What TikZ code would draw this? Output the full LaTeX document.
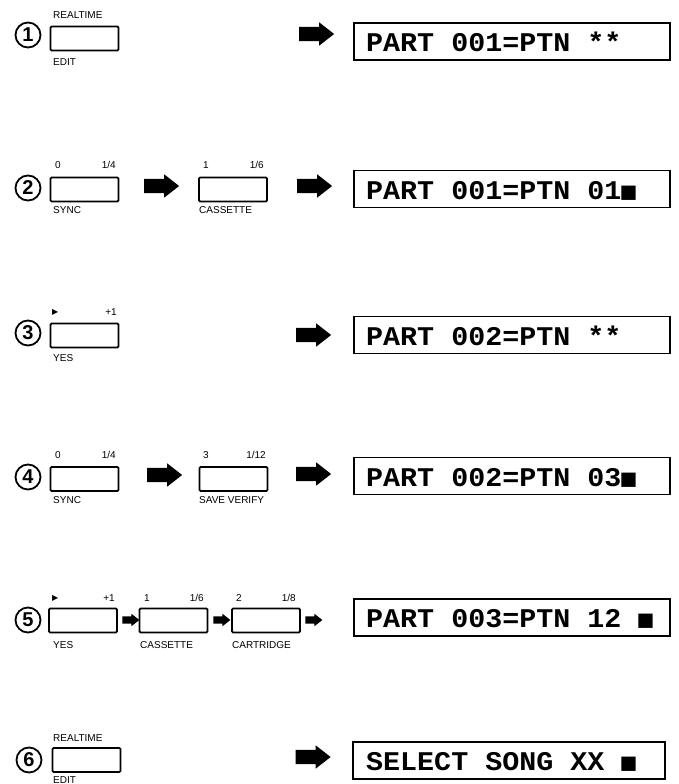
\documentclass[tikz,border=0pt]{standalone}
\usepackage{fontspec}
\usetikzlibrary{shapes.arrows}
\setmainfont{Liberation Sans}
\newfontfamily\lcdfont[FakeStretch=1.05]{Liberation Mono}
\newfontfamily\symfont{DejaVu Sans}
\newfontfamily\cursfont{DejaVu Sans Mono}
\tikzset{
 btn/.style={draw, line width=1.8pt, rounded corners=1.2pt, minimum width=68pt, minimum height=24pt, inner sep=0pt},
 lcd/.style={draw, line width=1.8pt, minimum width=316pt, minimum height=37pt, inner sep=0pt},
 lcdtext/.style={anchor=base west, inner sep=0pt, font=\lcdfont\bfseries\fontsize{27}{27}\selectfont},
 lbl/.style={inner sep=0pt, font=\fontsize{10}{10}\selectfont},
 num/.style={circle, draw, line width=1.8pt, minimum size=25pt, inner sep=0pt, font=\bfseries\fontsize{20}{20}\selectfont},
 bigarrow/.style={single arrow, fill, draw=none, minimum height=35pt, minimum width=23pt, single arrow head extend=4.5pt, single arrow tip angle=76, inner xsep=0pt, inner ysep=7pt},
 smallarrow/.style={single arrow, fill, draw=none, minimum height=17pt, minimum width=12pt, single arrow head extend=2.5pt, single arrow tip angle=76, inner xsep=0pt, inner ysep=3.5pt}
}
\newcommand{\curs}{{\cursfont\fontsize{24}{24}\selectfont ■}}
\newcommand{\play}{{\symfont\fontsize{8}{8}\selectfont ▶}}
\begin{document}
\begin{tikzpicture}[x=1pt,y=-1pt]
\useasboundingbox (0,0) rectangle (678,784);
% row 1
\node[num] (n1) at (28,35) {1};
\node[btn] (b1) at (84.5,38.5) {};
\node[lbl,anchor=west] (b1t) at (53,15) {REALTIME};
\node[lbl,anchor=west] (b1b) at (53,62) {EDIT};
\node[bigarrow] (a1) at (312,34) {};
\node[lcd] (d1) at (512,41.5) {};
\node[lcdtext] (t1) at (366,51.5) {PART 001=PTN **};
% row 2
\node[num] (n2) at (28,188) {2};
\node[btn] (b2a) at (84.5,189.5) {};
\node[lbl,anchor=west] (b2a1) at (55,165) {0};
\node[lbl,anchor=east] (b2a2) at (116,165) {1/4};
\node[lbl,anchor=west] (b2a3) at (53,210) {SYNC};
\node[bigarrow] (a2a) at (157,186) {};
\node[btn] (b2b) at (233,189.5) {};
\node[lbl,anchor=west] (b2b1) at (203,165) {1};
\node[lbl,anchor=east] (b2b2) at (264,165) {1/6};
\node[lbl,anchor=west] (b2b3) at (199,210) {CASSETTE};
\node[bigarrow] (a2b) at (310,186) {};
\node[lcd] (d2) at (512,189) {};
\node[lcdtext] (t2) at (366,199) {PART 001=PTN 01\curs};
% row 3
\node[num] (n3) at (28,333) {3};
\node[btn] (b3) at (84.5,335.5) {};
\node[lbl,anchor=west] (b31) at (52,312) {\play};
\node[lbl,anchor=east] (b32) at (117,312) {+1};
\node[lbl,anchor=west] (b33) at (53,358) {YES};
\node[bigarrow] (a3) at (309,335) {};
\node[lcd] (d3) at (512,335) {};
\node[lcdtext] (t3) at (366,345) {PART 002=PTN **};
% row 4
\node[num] (n4) at (28,477) {4};
\node[btn] (b4a) at (84.5,479) {};
\node[lbl,anchor=west] (b4a1) at (55,455) {0};
\node[lbl,anchor=east] (b4a2) at (116,455) {1/4};
\node[lbl,anchor=west] (b4a3) at (53,500) {SYNC};
\node[bigarrow] (a4a) at (160,475) {};
\node[btn] (b4b) at (233.5,479) {};
\node[lbl,anchor=west] (b4b1) at (203,455) {3};
\node[lbl,anchor=east] (b4b2) at (266,455) {1/12};
\node[lbl,anchor=west] (b4b3) at (199,500) {SAVE VERIFY};
\node[bigarrow] (a4b) at (309,474) {};
\node[lcd] (d4) at (512,476) {};
\node[lcdtext] (t4) at (366,486) {PART 002=PTN 03\curs};
% row 5
\node[num] (n5) at (28,620) {5};
\node[btn] (b5a) at (83,620.5) {};
\node[lbl,anchor=west] (b5a1) at (52,598) {\play};
\node[lbl,anchor=east] (b5a2) at (115,598) {+1};
\node[lbl,anchor=west] (b5a3) at (53,645) {YES};
\node[smallarrow] (a5a) at (128.5,620) {};
\node[btn] (b5b) at (173.5,620.5) {};
\node[lbl,anchor=west] (b5b1) at (144,598) {1};
\node[lbl,anchor=east] (b5b2) at (204,598) {1/6};
\node[lbl,anchor=west] (b5b3) at (140,645) {CASSETTE};
\node[smallarrow] (a5b) at (219.5,620) {};
\node[btn] (b5c) at (266,620.5) {};
\node[lbl,anchor=west] (b5c1) at (236,598) {2};
\node[lbl,anchor=east] (b5c2) at (296,598) {1/8};
\node[lbl,anchor=west] (b5c3) at (232,645) {CARTRIDGE};
\node[smallarrow] (a5c) at (311.5,620) {};
\node[lcd] (d5) at (512,617.5) {};
\node[lcdtext] (t5) at (366,627.5) {PART 003=PTN 12 \curs};
% row 6
\node[num] (n6) at (29,760) {6};
\node[btn] (b6) at (86.5,760) {};
\node[lbl,anchor=west] (b6t) at (53,738) {REALTIME};
\node[lbl,anchor=west] (b6b) at (53,780) {EDIT};
\node[bigarrow] (a6) at (308.5,757) {};
\node[lcd,minimum width=312pt] (d6) at (509,760.5) {};
\node[lcdtext] (t6) at (366,770.5) {SELECT SONG XX \curs};
\end{tikzpicture}
\end{document}
